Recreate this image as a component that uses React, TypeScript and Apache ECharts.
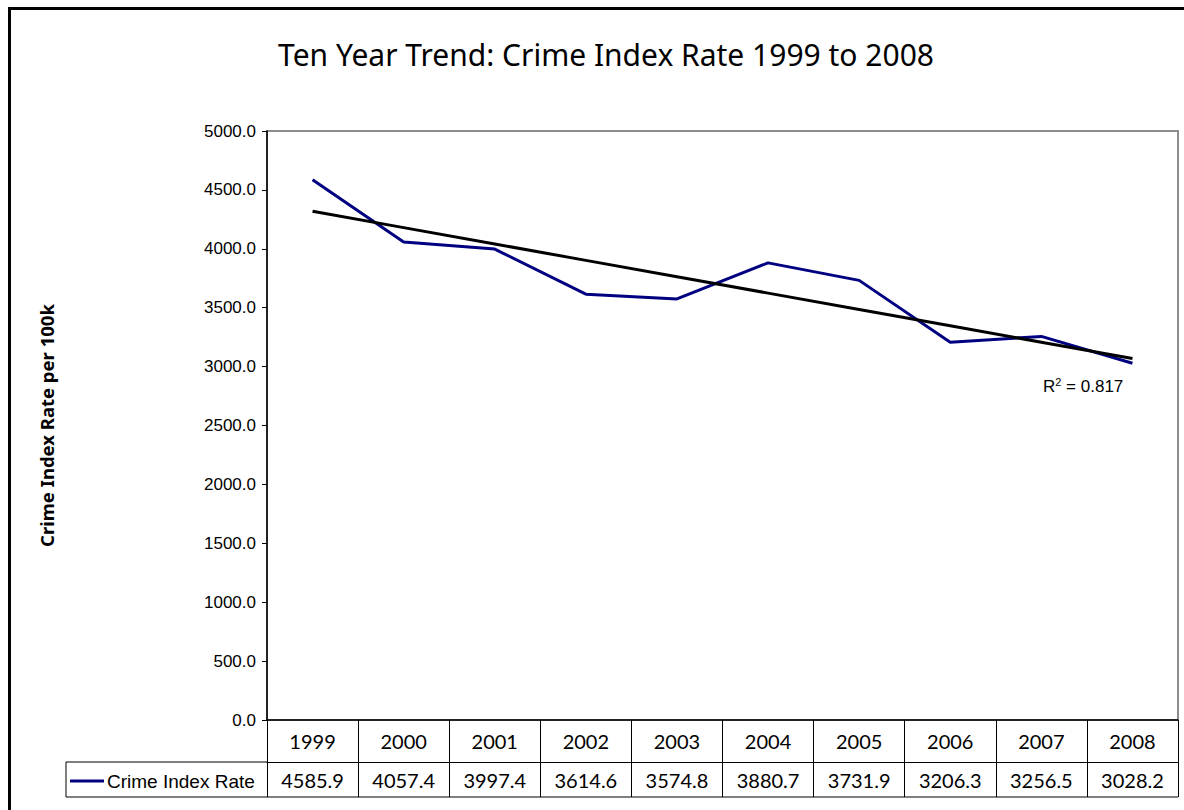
import React, { useEffect, useRef } from "react";
import * as echarts from "echarts";

const years = ["1999", "2000", "2001", "2002", "2003", "2004", "2005", "2006", "2007", "2008"];
const crimeRate = [4585.9, 4057.4, 3997.4, 3614.6, 3574.8, 3880.7, 3731.9, 3206.3, 3256.5, 3028.2];
const seriesName = "Crime Index Rate";
const titleText = "Ten Year Trend: Crime Index Rate 1999 to 2008";
const yAxisName = "Crime Index Rate per 100k";
const rSquaredText = "0.817";

function linearTrend(vals: number[]): number[] {
  const n = vals.length;
  const xs = vals.map((_, i) => i);
  const mx = xs.reduce((a, b) => a + b, 0) / n;
  const my = vals.reduce((a, b) => a + b, 0) / n;
  let sxy = 0;
  let sxx = 0;
  for (let i = 0; i < n; i++) {
    sxy += (xs[i] - mx) * (vals[i] - my);
    sxx += (xs[i] - mx) * (xs[i] - mx);
  }
  const slope = sxy / sxx;
  const icpt = my - slope * mx;
  return xs.map((x) => +(icpt + slope * x).toFixed(2));
}

export default function App() {
  const ref = useRef<HTMLDivElement>(null);
  useEffect(() => {
    if (!ref.current) return;
    const chart = echarts.init(ref.current, null, { renderer: "svg" });
    const trend = linearTrend(crimeRate);
    chart.setOption({
      animation: false,
      backgroundColor: "#ffffff",
      title: {
        text: titleText,
        left: 601,
        top: 34,
        textAlign: "center",
        textStyle: { fontFamily: "Noto Sans", fontSize: 30, fontWeight: "normal", color: "#000" },
      },
      grid: { left: 267, right: 6, top: 131, bottom: 90, show: true, borderColor: "#8c8c8c", borderWidth: 2, backgroundColor: "transparent" },
      xAxis: [
        {
          type: "category",
          data: years,
          boundaryGap: true,
          position: "bottom",
          axisLine: { show: true, lineStyle: { color: "#000", width: 1.5 } },
          axisTick: { show: true, length: 77, lineStyle: { color: "#000", width: 1 } },
          axisLabel: { margin: 11, fontFamily: "Lato", fontSize: 20, color: "#000" },
          splitLine: { show: false },
        },
        {
          type: "category",
          data: crimeRate.map((v) => v.toFixed(1)),
          boundaryGap: true,
          position: "bottom",
          offset: 42,
          axisLine: { show: true, lineStyle: { color: "#000", width: 1 } },
          axisTick: { show: false },
          axisLabel: { margin: 8, fontFamily: "Lato", fontSize: 20, color: "#000" },
          splitLine: { show: false },
        },
      ],
      yAxis: {
        type: "value",
        min: 0,
        max: 5000,
        interval: 500,
        name: yAxisName,
        nameLocation: "middle",
        nameGap: 211,
        nameTextStyle: { fontFamily: "Noto Sans", fontSize: 18.5, fontWeight: "bold", color: "#000" },
        axisLine: { show: true, lineStyle: { color: "#000", width: 1.5 } },
        axisTick: { show: true, length: 5, lineStyle: { color: "#000" } },
        axisLabel: {
          margin: 11,
          fontFamily: "Liberation Sans",
          fontSize: 17,
          color: "#000",
          formatter: (v: number) => v.toFixed(1),
        },
        splitLine: { show: false },
      },
      series: [
        {
          name: seriesName,
          type: "line",
          xAxisIndex: 0,
          data: crimeRate,
          symbol: "none",
          lineStyle: { color: "#000080", width: 3 },
          z: 2,
        },
        {
          name: "Linear trend",
          type: "line",
          xAxisIndex: 0,
          data: trend,
          symbol: "none",
          lineStyle: { color: "#000000", width: 3 },
          z: 3,
        },
      ],
      graphic: [
        {
          type: "rect",
          shape: { x: 9.5, y: 8.5, width: 1300, height: 900 },
          style: { fill: "none", stroke: "#000", lineWidth: 3 },
          silent: true,
        },
        {
          type: "line",
          shape: { x1: 66, y1: 762, x2: 267, y2: 762 },
          style: { stroke: "#000", lineWidth: 1 },
        },
        {
          type: "line",
          shape: { x1: 66, y1: 797, x2: 1178, y2: 797 },
          style: { stroke: "#000", lineWidth: 1 },
        },
        {
          type: "line",
          shape: { x1: 66, y1: 762, x2: 66, y2: 797 },
          style: { stroke: "#000", lineWidth: 1 },
        },
        {
          type: "line",
          shape: { x1: 70, y1: 781, x2: 104, y2: 781 },
          style: { stroke: "#000080", lineWidth: 3 },
        },
        {
          type: "text",
          x: 107,
          y: 781,
          style: {
            text: seriesName,
            fontFamily: "Liberation Sans",
            fontSize: 19,
            fill: "#000",
            verticalAlign: "middle",
          },
        },
        {
          type: "text",
          x: 1043,
          y: 386,
          style: {
            text: "{r|R}{s|2}{r| = " + rSquaredText + "}",
            verticalAlign: "middle",
            rich: {
              r: { fontFamily: "Liberation Sans", fontSize: 17, fill: "#000" },
              s: { fontFamily: "Liberation Sans", fontSize: 11, fill: "#000", verticalAlign: "top", padding: [0, 0, 8, 0] },
            },
          },
        },
      ],
    });
    return () => chart.dispose();
  }, []);
  return <div ref={ref} style={{ position: "absolute", left: 0, top: 0, width: 1184, height: 810 }} />;
}
